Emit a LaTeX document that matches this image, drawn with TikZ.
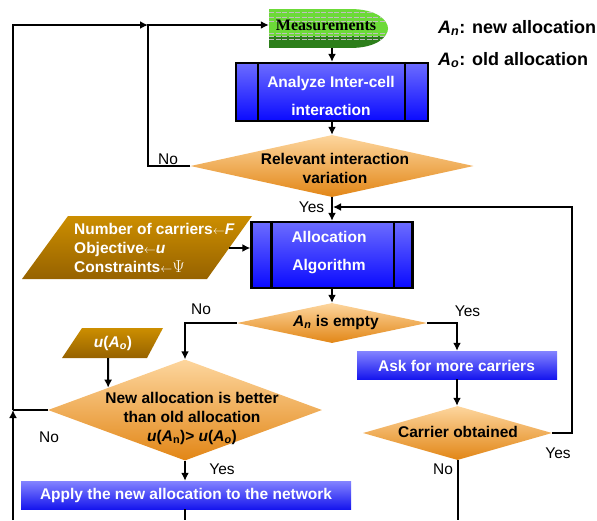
\documentclass[tikz,border=0pt]{standalone}
\usepackage{fontspec}
\setmainfont{Liberation Sans}
\newfontfamily\measfont{Liberation Serif}
\usetikzlibrary{arrows.meta,shapes.geometric,calc,shadings}
\definecolor{boxtop}{RGB}{108,108,255}
\definecolor{boxbot}{RGB}{10,10,255}
\definecolor{bartop}{RGB}{132,132,255}
\definecolor{barbot}{RGB}{22,22,238}
\definecolor{diatop}{RGB}{253,214,158}
\definecolor{diabot}{RGB}{226,134,22}
\definecolor{partop}{RGB}{204,142,0}
\definecolor{parbot}{RGB}{150,98,0}
\definecolor{greenlt}{RGB}{108,218,56}
\definecolor{greendk}{RGB}{44,126,26}
\newcommand\fsz{\fontsize{15.5}{19}\selectfont}
\newcommand\smarr{{\fontsize{12}{12}\selectfont$\leftarrow$}}
\tikzset{
  conn/.style={line width=2pt, draw=black},
  arr/.style={conn, -{Latex[length=8pt,width=8pt]}},
  procbox/.style={draw=black, line width=2.3pt, top color=boxtop, bottom color=boxbot, inner sep=0pt},
  actbox/.style={draw=none, top color=bartop, bottom color=barbot, inner sep=0pt},
  decision/.style={shape=diamond, draw=none, inner sep=0pt, top color=diatop, bottom color=diabot},
  wtext/.style={text=white, font=\fsz\bfseries, align=center, inner sep=0pt},
  btext/.style={text=black, font=\fsz\bfseries, align=center, inner sep=0pt},
  lbl/.style={text=black, font=\fsz, inner sep=0pt},
  parafill/.style={top color=partop, bottom color=parbot, draw=none}
}
\begin{document}
\begin{tikzpicture}[x=1pt,y=-1pt]
\useasboundingbox (0,0) rectangle (597,520);
% Measurements
\begin{scope}
\clip (269,9) -- (350,9) .. controls (378,9) and (388,21) .. (388,28.5) .. controls (388,36) and (378,48) .. (350,48) -- (269,48) -- cycle;
\fill[greenlt] (269,9) rectangle (390,36);
\fill[greendk] (269,36) rectangle (390,48);
\foreach \yy in {12,17,21,33,36.5,39.5}
  \draw[black!25, line width=0.8pt, dash pattern=on 5pt off 1.5pt] (269,\yy) -- (390,\yy);
\end{scope}
\node[minimum width=119pt, minimum height=39pt, inner sep=0pt] (meas) at (328.5,28.5) {};
\node[inner sep=0pt, font=\fontsize{16}{18}\measfont\bfseries] (meas-t) at (326,25) {Measurements};
% Legend
\node[anchor=base west, inner sep=0pt, font=\fontsize{18}{20}\selectfont\bfseries] (leg1) at (438,33) {\textit{A}\textsubscript{\textit{n}}: new allocation};
\node[anchor=base west, inner sep=0pt, font=\fontsize{18}{20}\selectfont\bfseries] (leg2) at (438,65) {\textit{A}\textsubscript{\textit{o}}: old allocation};
% Analyze
\node[procbox, minimum width=192pt, minimum height=58pt] (analyze) at (332,92) {};
\draw[line width=2.3pt] ($(analyze.north west)+(23,0)$) -- ($(analyze.south west)+(23,0)$);
\draw[line width=2.3pt] ($(analyze.north east)+(-24,0)$) -- ($(analyze.south east)+(-24,0)$);
\node[wtext] (analyze-t) at (331,95.5) {Analyze Inter-cell\\[9pt]interaction};
% Relevant
\node[decision, minimum width=283pt, minimum height=62pt] (relevant) at (332,166) {};
\node[btext] (relevant-t) at (335,168) {Relevant interaction\\variation};
% Inputs parallelogram
\path[parafill] (22,279) -- (68,216) -- (252,216) -- (207,279) -- cycle;
\node[text=white, font=\fsz\bfseries, align=left, inner sep=0pt, anchor=west] (inputs) at (74,248)
  {Number of carriers\smarr\textit{F}\\
   Objective\smarr\textit{u}\\
   Constraints\smarr{\fontsize{17}{17}\selectfont$\Psi$}};
\coordinate (inputs-out) at (229,248);
% Allocation
\node[procbox, minimum width=161pt, minimum height=66pt] (alloc) at (332,255) {};
\draw[line width=2.3pt] ($(alloc.north west)+(21,0)$) -- ($(alloc.south west)+(21,0)$);
\draw[line width=2.3pt] ($(alloc.north east)+(-20,0)$) -- ($(alloc.south east)+(-20,0)$);
\node[wtext] (alloc-t) at (329,252.5) {Allocation\\[9pt]Algorithm};
% An is empty
\node[decision, minimum width=190pt, minimum height=40pt] (emptyd) at (332,323) {};
\node[btext] (emptyd-t) at (336,322) {\textit{A}\textsubscript{\textit{n}} is empty};
% u(Ao)
\path[parafill] (62,358) -- (82,328) -- (163,328) -- (147,358) -- cycle;
\node[wtext] (uao) at (113,343) {\textit{u}(\textit{A}\textsubscript{\textit{o}})};
\coordinate (uao-out) at (108,358);
% New allocation decision
\node[decision, minimum width=274pt, minimum height=101pt] (newd) at (185,410) {};
\node[btext] (newd-t) at (192,418.5) {New allocation is better\\than old allocation\\\textit{u}(\textit{A}\textsubscript{n})> \textit{u}(\textit{A}\textsubscript{\textit{o}})};
% Ask
\node[actbox, minimum width=200pt, minimum height=28pt] (ask) at (457,365) {};
\node[wtext] (ask-t) at (456.5,366) {Ask for more carriers};
% Carrier obtained
\node[decision, minimum width=189pt, minimum height=54pt] (carrier) at (457.5,433) {};
\node[btext] (carrier-t) at (458,432) {Carrier obtained};
% Apply
\node[actbox, minimum width=330pt, minimum height=28pt] (apply) at (186,495) {};
\node[wtext] (apply-t) at (186,495) {Apply the new allocation to the network};
% coordinates
\coordinate (J) at (148,25);
\coordinate (L) at (13,410);
\coordinate (Lbot) at (13,520);
\coordinate (Y) at (333,207);
\coordinate (R) at (572,207);
% connectors
\draw[arr] (Lbot) -- (L);
\draw[conn] (newd.west) -- (L);
\draw[arr] (L) -- (L |- J) -- (J);
\draw[arr] (relevant.west) -- (relevant.west -| J) -- (J) -- (meas.west |- J);
\draw[arr] (meas.south -| analyze.north) -- (analyze.north);
\draw[arr] (analyze.south) -- (relevant.north);
\draw[arr] (relevant.south) -- (alloc.north);
\draw[arr] (carrier.east) -- (carrier.east -| R) -- (R) -- (Y);
\draw[arr] (inputs-out) -- (inputs-out -| alloc.west);
\draw[arr] (alloc.south) -- (emptyd.north);
\draw[arr] (emptyd.west) -- (emptyd.west -| newd.north) -- (newd.north);
\draw[arr] (emptyd.east) -- (emptyd.east -| ask.north) -- (ask.north);
\draw[arr] (ask.south) -- (ask.south |- carrier.north);
\draw[conn] (carrier.south) -- (carrier.south |- Lbot);
\draw[arr] (uao-out) -- ($(newd.west)!0.44!(newd.north)$);
\draw[arr] (newd.south) -- (newd.south |- apply.north);
\draw[conn] (apply.south -| newd.south) -- (newd.south |- Lbot);
% labels
\node[lbl] (l-no1) at (168,159) {No};
\node[lbl] (l-yes1) at (311.5,207) {Yes};
\node[lbl] (l-no2) at (201,309) {No};
\node[lbl] (l-yes2) at (467.5,311.5) {Yes};
\node[lbl] (l-no3) at (49,437) {No};
\node[lbl] (l-yes3) at (222,469) {Yes};
\node[lbl] (l-yes4) at (558,453) {Yes};
\node[lbl] (l-no4) at (443,469.5) {No};
\end{tikzpicture}
\end{document}
